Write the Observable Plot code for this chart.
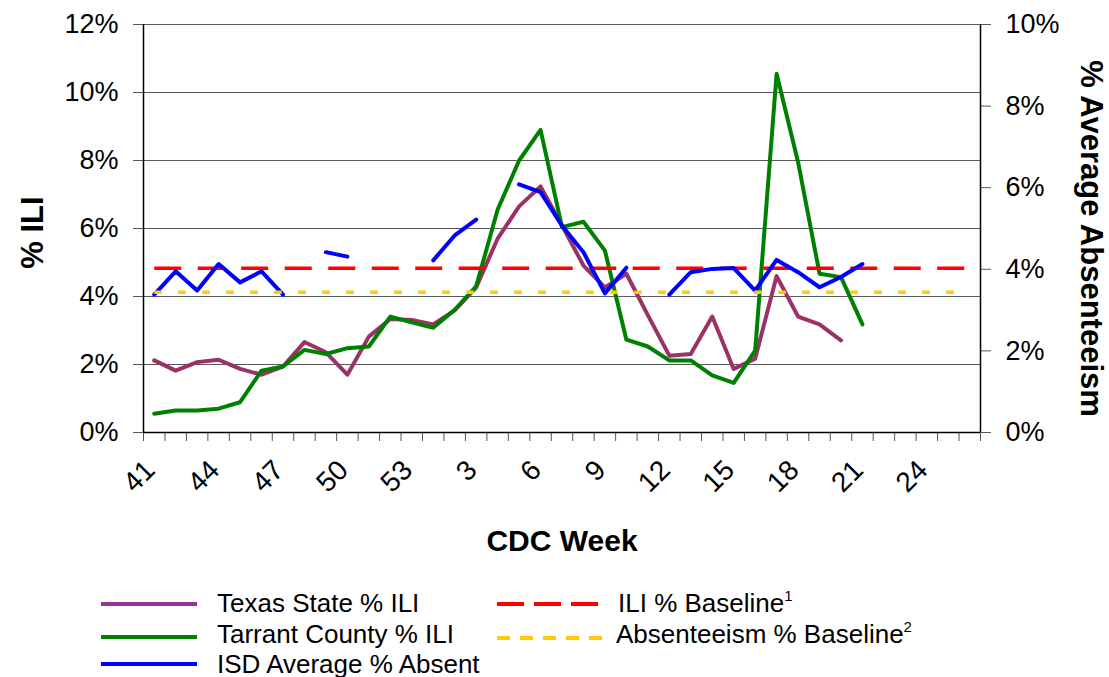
<!DOCTYPE html>
<html><head><meta charset="utf-8">
<script src="https://cdn.jsdelivr.net/npm/d3@7"></script>
<script src="https://cdn.jsdelivr.net/npm/@observablehq/plot@0.6"></script>
<style>
body{margin:0;background:#fff;}
#chart{width:1109px;height:677px;overflow:hidden;background:#fff;}
#chart svg{display:block;}
</style></head><body><div id="chart"></div>
<script>
// CDC weeks (season order)
const weeks = [41,42,43,44,45,46,47,48,49,50,51,52,53,1,2,3,4,5,6,7,8,9,10,11,12,13,14,15,16,17,18,19,20,21,22,23,24,25,26];
const labelWeeks = [41,44,47,50,53,3,6,9,12,15,18,21,24];
// % ILI, left axis
const texasILI = [2.12,1.82,2.07,2.14,1.87,1.70,1.94,2.66,2.36,1.70,2.82,3.34,3.31,3.18,3.59,4.27,5.70,6.65,7.24,6.09,4.91,4.27,4.67,3.45,2.26,2.31,3.41,1.87,2.17,4.60,3.41,3.18,2.71,null,null,null,null,null,null];
const tarrantILI = [0.55,0.65,0.65,0.70,0.89,1.82,1.94,2.43,2.31,2.48,2.53,3.41,3.24,3.08,3.61,4.30,6.55,8.00,8.90,6.04,6.20,5.35,2.73,2.53,2.12,2.12,1.68,1.46,2.41,10.55,7.95,4.67,4.57,3.18,null,null,null,null,null];
// % average absent, right axis
const isdAbsent = [3.38,3.95,3.48,4.13,3.68,3.95,3.38,null,4.42,4.31,null,null,null,4.22,4.83,5.22,null,6.08,5.89,5.07,4.42,3.41,4.04,null,3.38,3.93,4.01,4.03,3.48,4.23,3.93,3.56,3.81,4.13,null,null,null,null,null];
const iliBaseline = 4.83;
const absBaseline = 3.44;
const leftTicks = [0,2,4,6,8,10,12];
const rightTicks = [0,2,4,6,8,10];

const k = 12 / 10; // right-axis value -> left-axis scale
const n = weeks.length;
const rows = (arr, f = 1) => weeks.map((w, i) => ({i, v: arr[i] == null ? null : arr[i] * f}));
const tex = rows(texasILI);
const tar = rows(tarrantILI);
const isd = rows(isdAbsent, k);
const iliBase = weeks.map((w, i) => ({i, v: iliBaseline}));
const absBase = weeks.map((w, i) => ({i, v: absBaseline * k}));
const labelIdx = labelWeeks.map(w => weeks.indexOf(w));
const font = "'Liberation Sans', Arial, Helvetica, sans-serif";

const plot = Plot.plot({
  width: 1109, height: 575,
  marginLeft: 143, marginRight: 129, marginTop: 24, marginBottom: 143,
  x: {type: "linear", domain: [-0.5, n - 0.5], axis: null},
  y: {domain: [0, 12], axis: null},
  style: {fontFamily: font, fontSize: "27px", background: "#fff", color: "#000", overflow: "visible"},
  marks: [
    Plot.ruleY(leftTicks, {stroke: "#5a5a5a", strokeWidth: 1}),
    Plot.axisY({ticks: leftTicks, tickFormat: d => d + "%", tickSize: 10, tickPadding: 15, stroke: "#555", fontSize: 27, label: null}),
    Plot.axisY({anchor: "right", ticks: rightTicks.map(d => d * k), tickFormat: d => Math.round(d / k) + "%", tickSize: 10, tickPadding: 15, stroke: "#555", fontSize: 27, label: null}),
    Plot.axisX({ticks: d3.range(-0.5, n), tickSize: 9, tickFormat: () => "", stroke: "#555", label: null}),
    Plot.ruleX([-0.5], {stroke: "#000", strokeWidth: 1.5}),
    Plot.ruleX([n - 0.5], {stroke: "#000", strokeWidth: 1.5}),
    Plot.ruleY([0], {stroke: "#000", strokeWidth: 1.5}),
    Plot.text(labelIdx, {x: d => d, text: d => weeks[d], frameAnchor: "bottom", rotate: -45, textAnchor: "end", lineAnchor: "middle", dx: -4, dy: 33, fontSize: 28}),
    Plot.line(tex, {x: "i", y: "v", stroke: "#993366", strokeWidth: 4}),
    Plot.line(tar, {x: "i", y: "v", stroke: "#008000", strokeWidth: 4}),
    Plot.line(iliBase, {x: "i", y: "v", stroke: "#ff0000", strokeWidth: 3.5, strokeDasharray: "27,16.5", strokeLinecap: "butt"}),
    Plot.line(isd, {x: "i", y: "v", stroke: "#0000ff", strokeWidth: 4}),
    Plot.line(absBase, {x: "i", y: "v", stroke: "#ffcc00", strokeWidth: 3.5, strokeDasharray: "7.5,16.5", strokeLinecap: "butt"}),
    Plot.text(["CDC Week"], {text: d => d, frameAnchor: "bottom", dy: 109, fontWeight: "bold", fontSize: 30, textAnchor: "middle", lineAnchor: "middle"}),
    Plot.text(["% ILI"], {text: d => d, frameAnchor: "left", dx: -110, dy: 4, rotate: -90, fontWeight: "bold", fontSize: 31, textAnchor: "middle", lineAnchor: "middle"}),
    Plot.text(["% Average Absenteeism"], {text: d => d, frameAnchor: "right", dx: 110, dy: 10, rotate: 90, fontWeight: "bold", fontSize: 31, textAnchor: "middle", lineAnchor: "middle"})
  ]
});

const chart = document.getElementById("chart");
chart.appendChild(plot);

// Legend below the chart
const legendItems = [
  {label: "Texas State % ILI", sup: "", color: "#993399", dash: null, lx: 101, lw: 96, tx: 217, ly: 29, ty: 37},
  {label: "Tarrant County % ILI", sup: "", color: "#008000", dash: null, lx: 101, lw: 96, tx: 217, ly: 62, ty: 68},
  {label: "ISD Average % Absent", sup: "", color: "#0000ff", dash: null, lx: 101, lw: 96, tx: 217, ly: 89, ty: 97.5},
  {label: "ILI % Baseline", sup: "1", color: "#ff0000", dash: "27,10", lx: 497, lw: 101, tx: 618, ly: 29, ty: 37},
  {label: "Absenteeism % Baseline", sup: "2", color: "#ffcc00", dash: "13,10", lx: 497, lw: 106, tx: 616, ly: 63, ty: 68}
];
const leg = d3.create("svg").attr("width", 1109).attr("height", 102)
  .style("font-family", font).style("display", "block");
for (const it of legendItems) {
  leg.append("line").attr("x1", it.lx).attr("x2", it.lx + it.lw).attr("y1", it.ly).attr("y2", it.ly)
    .attr("stroke", it.color).attr("stroke-width", 4).attr("stroke-dasharray", it.dash);
  const t = leg.append("text").attr("x", it.tx).attr("y", it.ty).attr("font-size", 26).attr("fill", "#000").text(it.label);
  if (it.sup) t.append("tspan").attr("font-size", 15).attr("dy", -11).text(it.sup);
}
chart.appendChild(leg.node());
</script>
</body></html>
